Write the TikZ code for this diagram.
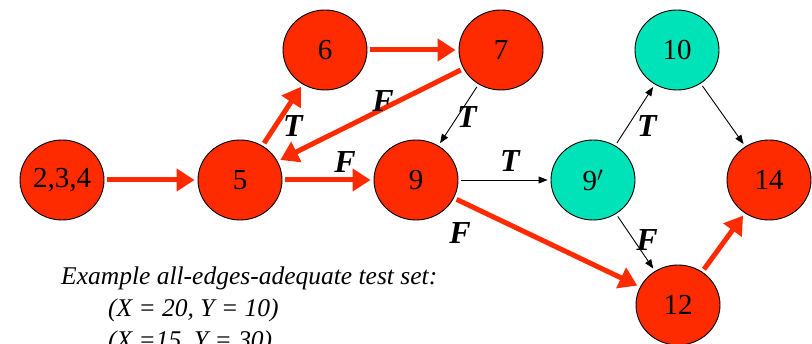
\documentclass[tikz,border=0pt]{standalone}
\usepackage{fontspec}
\setmainfont{Liberation Serif}
\usetikzlibrary{shapes.geometric,arrows.meta}
\definecolor{nred}{RGB}{255,43,0}
\definecolor{nteal}{RGB}{0,227,185}
\tikzset{
  vtx/.style={ellipse,draw=black,line width=0.9pt,minimum width=84pt,minimum height=80pt,inner sep=0pt,font=\fontsize{29}{31}\selectfont},
  rv/.style={vtx,fill=nred},
  tv/.style={vtx,fill=nteal},
  redge/.style={draw=nred,line width=5pt,-{Triangle[length=18pt,width=22pt]},shorten >=3pt,shorten <=3pt},
  bedge/.style={draw=black,line width=0.9pt,-{Triangle[length=9pt,width=7pt]},shorten >=3pt,shorten <=3pt},
  lbl/.style={font=\fontsize{32}{34}\selectfont\bfseries\itshape,inner sep=0pt},
  txt/.style={font=\fontsize{25.5}{27}\selectfont\itshape,anchor=base west,inner sep=0pt}
}
\begin{document}
\begin{tikzpicture}[x=1pt,y=-1pt]
\useasboundingbox (0,0) rectangle (812,344);
\node[rv] (n234) at (62,180) {2,3,4};
\node[rv] (n5) at (240,180) {5};
\node[rv] (n6) at (325,50) {6};
\node[rv] (n7) at (501,50) {7};
\node[rv] (n9) at (416,180) {9};
\node[tv] (n9p) at (593,180) {9$'$};
\node[tv] (n10) at (677,50) {10};
\node[rv] (n14) at (769,180) {14};
\node[rv] (n12) at (678,305) {12};

\draw[redge] (n234) -- (n5);
\draw[redge] (n5) -- (n6);
\draw[redge] (n6) -- (n7);
\draw[redge] (n7) -- (n5);
\draw[redge] (n5) -- (n9);
\draw[redge] (n9) -- (n12);
\draw[redge] (n12) -- (n14);
\draw[bedge] (n7) -- (n9);
\draw[bedge] (n9) -- (n9p);
\draw[bedge] (n9p) -- (n10);
\draw[bedge] (n10) -- (n14);
\draw[bedge] (n9p) -- (n12);

\node[lbl] (l1) at (383,101) {F};
\node[lbl] (l2) at (293,126) {T};
\node[lbl] (l3) at (345,162) {F};
\node[lbl] (l4) at (467,117) {T};
\node[lbl] (l5) at (510,161) {T};
\node[lbl] (l6) at (647,126) {T};
\node[lbl] (l7) at (460,233) {F};
\node[lbl] (l8) at (647,240) {F};

\node[txt] (t1) at (61,285) {Example all-edges-adequate test set:};
\node[txt] (t2) at (108,317) {(X = 20, Y = 10)};
\node[txt] (t3) at (108,349) {(X =15, Y = 30)};
\end{tikzpicture}
\end{document}
